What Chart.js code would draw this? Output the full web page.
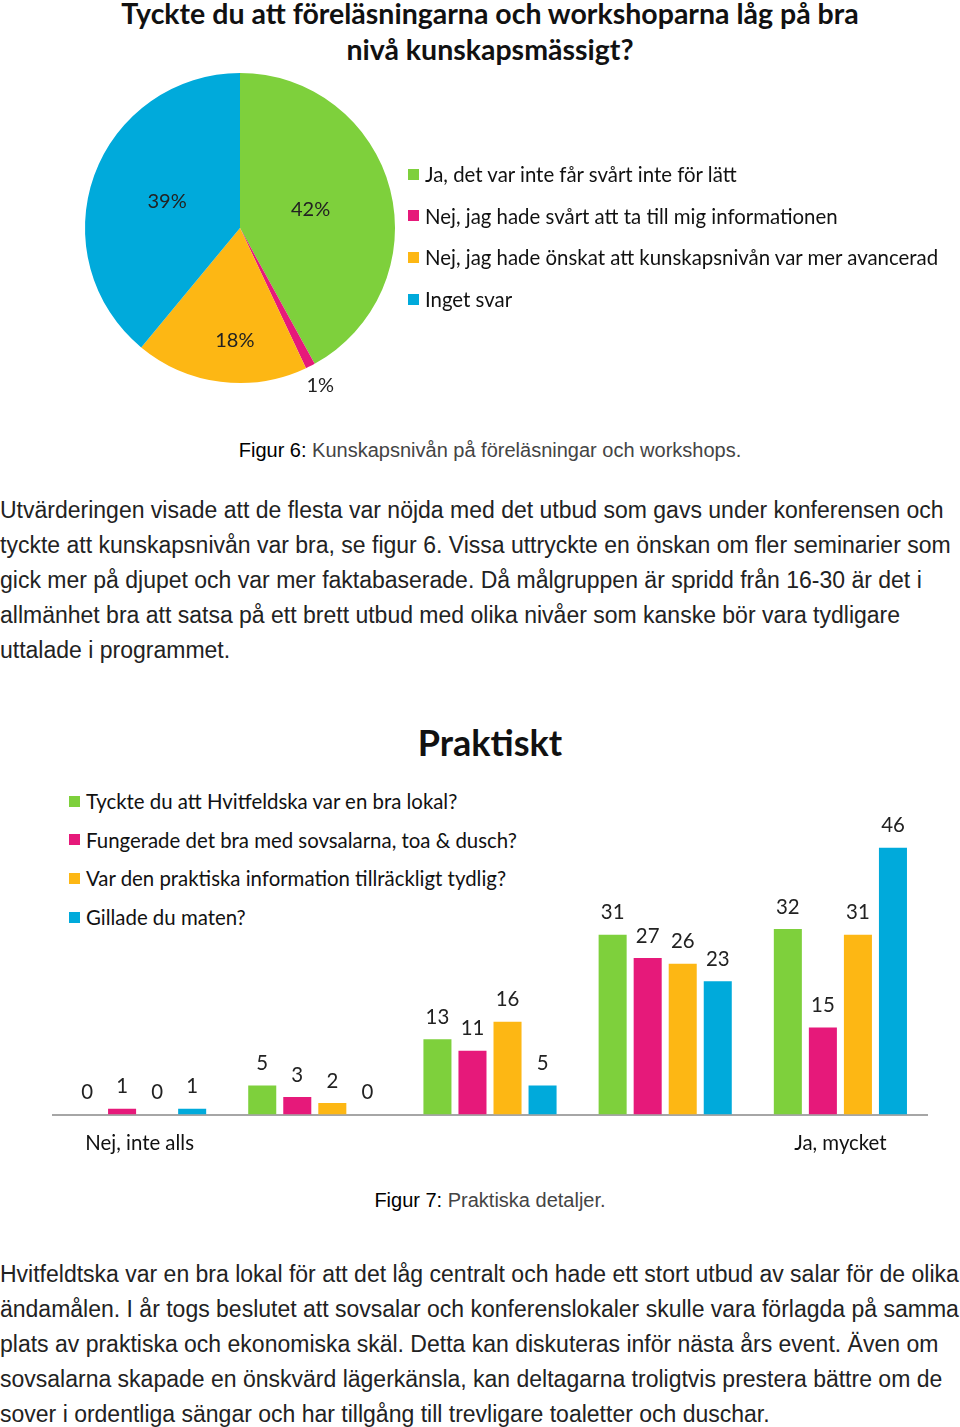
<!DOCTYPE html>
<html lang="sv">
<head>
<meta charset="utf-8">
<script src="https://cdn.jsdelivr.net/npm/chart.js@4/dist/chart.umd.min.js"></script>
<style>
  html, body { margin: 0; padding: 0; background: #fff; }
  body { width: 960px; height: 1427px; position: relative; overflow: hidden; font-family: Lato, "Open Sans", sans-serif; color: #111; }
  .abs { position: absolute; white-space: nowrap; }
  .title { font-weight: bold; font-size: 28.5px; left: 0; width: 980px; text-align: center; }
  .leg { font-size: 20.4px; display: flex; align-items: center; }
  .leg i { display: inline-block; width: 11px; height: 11px; margin-right: 6px; }
  .caption { font-family: "Liberation Sans", Arial, sans-serif; font-size: 20px; left: 0; width: 980px; text-align: center; color: #444; }
  .caption b { font-weight: normal; color: #000; }
  .body { font-family: "Liberation Sans", Arial, sans-serif; font-size: 23px; color: #222; left: 0; }
</style>
</head>
<body>
<div class="abs title" style="top:-4px">Tyckte du att föreläsningarna och workshoparna låg på bra</div>
<div class="abs title" style="top:32px">nivå kunskapsmässigt?</div>

<div class="abs" style="left:45px;top:33px;width:390px;height:390px"><canvas id="pie"></canvas></div>
<div id="pie-legend"></div>

<div class="abs caption" style="top:439px"><b>Figur 6:</b> Kunskapsnivån på föreläsningar och workshops.</div>

<div id="para1"></div>

<div class="abs title" style="top:720px;font-size:36px">Praktiskt</div>
<div id="bar-legend"></div>
<div class="abs" style="left:52px;top:813px;width:876px;height:360px"><canvas id="bars"></canvas></div>

<div class="abs caption" style="top:1189px"><b>Figur 7:</b> Praktiska detaljer.</div>

<div id="para2"></div>

<script>
const pieLabels = [
  'Ja, det var inte får svårt inte för lätt',
  'Nej, jag hade svårt att ta till mig informationen',
  'Nej, jag hade önskat att kunskapsnivån var mer avancerad',
  'Inget svar'
];
const pieValues = [42, 1, 18, 39];
const colors = ['#7ed03c', '#e6197a', '#fdb714', '#00aadb'];

const barCategories = ['Nej, inte alls', '', '', '', 'Ja, mycket'];
const barSeriesNames = [
  'Tyckte du att Hvitfeldska var en bra lokal?',
  'Fungerade det bra med sovsalarna, toa & dusch?',
  'Var den praktiska information tillräckligt tydlig?',
  'Gillade du maten?'
];
const lokal   = [0, 5, 13, 31, 32];
const sovsal  = [1, 3, 11, 27, 15];
const info    = [0, 2, 16, 26, 31];
const maten   = [1, 0, 5, 23, 46];

const para1 = [
  'Utvärderingen visade att de flesta var nöjda med det utbud som gavs under konferensen och',
  'tyckte att kunskapsnivån var bra, se figur 6. Vissa uttryckte en önskan om fler seminarier som',
  'gick mer på djupet och var mer faktabaserade. Då målgruppen är spridd från 16-30 är det i',
  'allmänhet bra att satsa på ett brett utbud med olika nivåer som kanske bör vara tydligare',
  'uttalade i programmet.'
];
const para2 = [
  'Hvitfeldtska var en bra lokal för att det låg centralt och hade ett stort utbud av salar för de olika',
  'ändamålen. I år togs beslutet att sovsalar och konferenslokaler skulle vara förlagda på samma',
  'plats av praktiska och ekonomiska skäl. Detta kan diskuteras inför nästa års event. Även om',
  'sovsalarna skapade en önskvärd lägerkänsla, kan deltagarna troligtvis prestera bättre om de',
  'sover i ordentliga sängar och har tillgång till trevligare toaletter och duschar.'
];

// text blocks
function writeLines(id, lines, top) {
  document.getElementById(id).innerHTML = lines.map((t, i) =>
    `<div class="abs body" style="top:${top + i * 35}px">${t}</div>`).join('');
}
writeLines('para1', para1, 497);
writeLines('para2', para2, 1261);

function writeLegend(id, names, left, top, step) {
  document.getElementById(id).innerHTML = names.map((t, i) =>
    `<div class="abs leg" style="left:${left}px;top:${top + i * step}px"><i style="background:${colors[i]}"></i>${t}</div>`).join('');
}
writeLegend('pie-legend', pieLabels, 408, 162, 41.7);
writeLegend('bar-legend', barSeriesNames, 69, 789, 38.7);

// pie percentages: distance from centre as share of radius, plus a small turn (radians)
const pieLabelRadius = [0.47, 1.14, 0.73, 0.5];
const pieLabelTurn = [0, 0, -0.08, 0];
const piePctLabels = {
  id: 'piePct',
  afterDatasetsDraw(chart) {
    const ctx = chart.ctx;
    const arcs = chart.getDatasetMeta(0).data;
    ctx.save();
    ctx.font = '20px Lato, sans-serif';
    ctx.fillStyle = '#222';
    ctx.textAlign = 'center';
    ctx.textBaseline = 'middle';
    arcs.forEach((a, i) => {
      const mid = (a.startAngle + a.endAngle) / 2 + pieLabelTurn[i];
      const r = a.outerRadius * pieLabelRadius[i];
      ctx.fillText(pieValues[i] + '%', a.x + Math.cos(mid) * r, a.y + Math.sin(mid) * r);
    });
    ctx.restore();
  }
};

new Chart(document.getElementById('pie'), {
  type: 'pie',
  data: {
    labels: pieLabels,
    datasets: [{ data: pieValues, backgroundColor: colors, borderWidth: 0 }]
  },
  options: {
    responsive: true,
    maintainAspectRatio: false,
    animation: false,
    layout: { padding: 40 },
    plugins: { legend: { display: false }, tooltip: { enabled: false } }
  },
  plugins: [piePctLabels]
});

const barValueLabels = {
  id: 'barValues',
  afterDatasetsDraw(chart) {
    const ctx = chart.ctx;
    ctx.save();
    ctx.font = '20.4px Lato, sans-serif';
    ctx.fillStyle = '#222';
    ctx.textAlign = 'center';
    ctx.textBaseline = 'middle';
    chart.data.datasets.forEach((ds, di) => {
      chart.getDatasetMeta(di).data.forEach((bar, i) => {
        ctx.fillText(String(ds.data[i]), bar.x, bar.y - 22);
      });
    });
    ctx.restore();
  }
};

new Chart(document.getElementById('bars'), {
  type: 'bar',
  data: {
    labels: barCategories,
    datasets: [lokal, sovsal, info, maten].map((d, i) => ({
      label: barSeriesNames[i],
      data: d,
      backgroundColor: colors[i],
      categoryPercentage: 0.8,
      barPercentage: 0.8
    }))
  },
  options: {
    responsive: true,
    maintainAspectRatio: false,
    animation: false,
    layout: { padding: 0 },
    plugins: { legend: { display: false }, tooltip: { enabled: false } },
    scales: {
      x: {
        grid: { display: false, drawTicks: false },
        border: { display: true, color: '#a6a6a6', width: 2 },
        ticks: { color: '#111', font: { family: 'Lato', size: 20.4 }, padding: 17, autoSkip: false, maxRotation: 0 }
      },
      y: { display: false, min: 0, max: 52 }
    }
  },
  plugins: [barValueLabels]
});
</script>
</body>
</html>
